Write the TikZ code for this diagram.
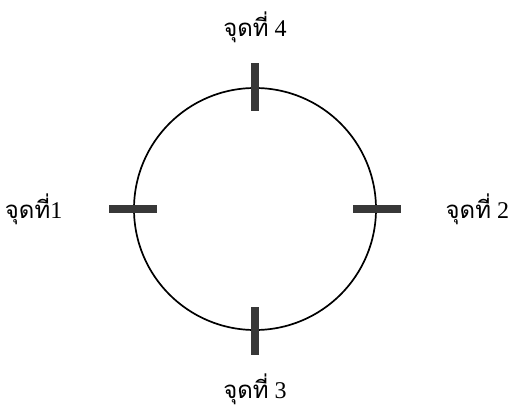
\documentclass[tikz,border=0pt]{standalone}
\usepackage{fontspec}
\setmainfont{Liberation Serif}
\newfontfamily\thaifont[Script=Thai]{Loma}
\usetikzlibrary{positioning}
\tikzset{
  % The ring itself
  ring/.style={draw, circle, line width=0.85pt, minimum size=121pt, inner sep=0pt},
  % Marker bars across the ring
  hbar/.style={rectangle, fill=black!78, minimum width=24pt, minimum height=4pt, inner sep=0pt},
  vbar/.style={hbar, minimum width=4pt, minimum height=24pt},
  % Point labels
  ptlabel/.style={font=\fontsize{12}{14}\selectfont, inner sep=0pt}
}

\begin{document}
\begin{tikzpicture}[x=0.5pt, y=-0.5pt]
\useasboundingbox (0,0) rectangle (509,407);

% Ring and the four marker bars
\node[ring] (ring) at (255,209) {};
\node[hbar] (p1) at (ring.west) {};
\node[hbar] (p2) at (ring.east) {};
\node[vbar] (p3) at (ring.south) {};
\node[vbar] (p4) at (ring.north) {};

% Labels
\node[ptlabel, left=23pt of p1] (l1) {{\thaifont จุดที่}1};
\node[ptlabel, right=22pt of p2] (l2) {{\thaifont จุดที่}~2};
\node[ptlabel, below=9pt of p3] (l3) {{\thaifont จุดที่}~3};
\node[ptlabel, above=10pt of p4] (l4) {{\thaifont จุดที่}~4};

\end{tikzpicture}
\end{document}
